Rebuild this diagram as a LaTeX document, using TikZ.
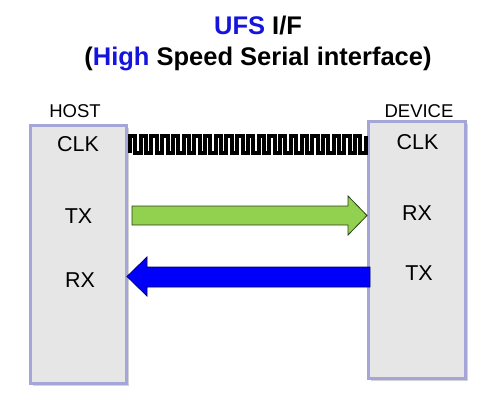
\documentclass[tikz,border=0pt]{standalone}
\usepackage{fontspec}
\setmainfont{Liberation Sans}
\usetikzlibrary{shadows}
\definecolor{boxedge}{RGB}{165,165,215}
\definecolor{boxfill}{RGB}{230,230,230}
\definecolor{ttlblue}{RGB}{20,20,220}
\definecolor{arrgreen}{RGB}{146,208,80}
\definecolor{arrblue}{RGB}{0,0,250}
\begin{document}
\begin{tikzpicture}[x=1bp,y=-1bp,
  unit/.style={draw=boxedge,line width=3.5bp,fill=boxfill,
    drop shadow={shadow xshift=2bp,shadow yshift=-2.5bp,opacity=0.35}},
  sig/.style={font=\fontsize{21.5bp}{24bp}\selectfont,anchor=base},
  side/.style={font=\fontsize{18.5bp}{20bp}\selectfont,anchor=base},
  ttl/.style={font=\fontsize{25.5bp}{28bp}\selectfont\bfseries,anchor=base},
  fatarrow/.style={line width=0.8bp,line join=miter}]
\useasboundingbox (0,0) rectangle (485,402);
% title
\node[ttl] (t1) at (258,34) {\textcolor{ttlblue}{UFS} I/F};
\node[ttl] (t2) at (258,65) {(\textcolor{ttlblue}{High} Speed Serial interface)};
% boxes
\draw[unit] (30.5,125.5) rectangle (126.5,383.5);
\draw[unit] (368.5,121.5) rectangle (465.5,378.5);
\node[side] (host) at (75,117) {HOST};
\node[side] (device) at (419,117) {DEVICE};
% host labels
\node[sig] (hclk) at (78,151.5) {CLK};
\node[sig] (htx) at (78.5,223) {TX};
\node[sig] (hrx) at (80,287) {RX};
% device labels
\node[sig] (dclk) at (417.5,149) {CLK};
\node[sig] (drx) at (417,220) {RX};
\node[sig] (dtx) at (419,280) {TX};
% clock wave
\draw[line width=4bp,line join=miter]
  (130,152.5) \foreach \i in {0,...,21} {
    -- ++(0,-17) -- ++(5.36,0) -- ++(0,17) -- ++(5.36,0)
  } -- ++(0,-17);
% green arrow (host TX -> device RX)
\draw[fatarrow,fill=arrgreen,draw=black!70!arrgreen]
  (132,206) -- (348,206) -- (348,196) -- (367,215.5) -- (348,235) -- (348,225) -- (132,225) -- cycle;
% blue arrow (device TX -> host RX)
\draw[fatarrow,fill=arrblue,draw=black!60!arrblue]
  (370,267) -- (147,267) -- (147,257) -- (127,276.5) -- (147,296) -- (147,287) -- (370,287) -- cycle;
\end{tikzpicture}
\end{document}
